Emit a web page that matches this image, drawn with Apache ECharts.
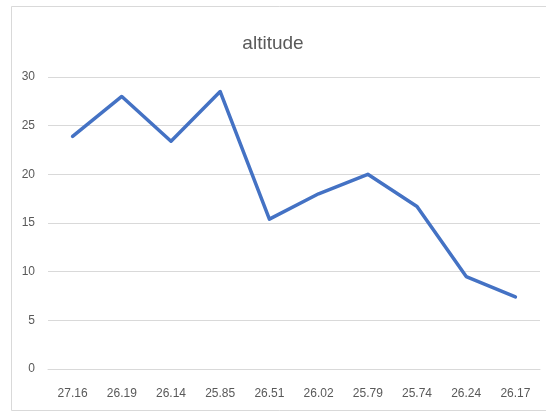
<!DOCTYPE html>
<html>
<head>
<meta charset="utf-8">
<script src="https://cdn.jsdelivr.net/npm/echarts@6/dist/echarts.min.js"></script>
<style>
  html, body { margin: 0; padding: 0; background: #fff; }
  #chart { width: 546px; height: 412px; }
</style>
</head>
<body>
<div id="chart"></div>
<script>
// Category labels along the horizontal axis
const categories = ['27.16', '26.19', '26.14', '25.85', '26.51', '26.02', '25.79', '25.74', '26.24', '26.17'];
// Altitude values for each category
const altitude = [23.9, 28.0, 23.4, 28.5, 15.4, 18.0, 20.0, 16.7, 9.5, 7.4];
// Vertical axis range and step
const yMin = 0;
const yMax = 30;
const yStep = 5;

const chart = echarts.init(document.getElementById('chart'), null, { renderer: 'canvas' });
const textColor = '#595959';
const gridColor = '#d9d9d9';

chart.setOption({
  backgroundColor: '#ffffff',
  animation: false,
  title: {
    text: 'altitude',
    left: 'center',
    top: 29,
    textStyle: {
      fontFamily: 'Liberation Sans, Arial, sans-serif',
      fontSize: 19,
      fontWeight: 'normal',
      color: textColor
    }
  },
  graphic: [{
    type: 'rect',
    shape: { x: 11.5, y: 6.5, width: 560, height: 404 },
    style: { fill: 'none', stroke: '#d9d9d9', lineWidth: 1 },
    silent: true
  }],
  grid: { left: 48, right: 6, top: 77, bottom: 43, containLabel: false },
  xAxis: {
    type: 'category',
    data: categories,
    boundaryGap: true,
    axisLine: { show: true, lineStyle: { color: gridColor, width: 1 } },
    axisTick: { show: false },
    axisLabel: {
      color: textColor,
      fontFamily: 'Liberation Sans, Arial, sans-serif',
      fontSize: 12,
      margin: 19,
      interval: 0
    },
    splitLine: { show: false }
  },
  yAxis: {
    type: 'value',
    min: yMin,
    max: yMax,
    interval: yStep,
    axisLine: { show: false },
    axisTick: { show: false },
    axisLabel: {
      color: textColor,
      fontFamily: 'Liberation Sans, Arial, sans-serif',
      fontSize: 12,
      margin: 13
    },
    splitLine: { show: true, lineStyle: { color: gridColor, width: 1 } }
  },
  series: [{
    name: 'altitude',
    type: 'line',
    data: altitude,
    symbol: 'none',
    smooth: false,
    lineStyle: { color: '#4472C4', width: 3.5, join: 'round', cap: 'round' },
    itemStyle: { color: '#4472C4' }
  }]
});
</script>
</body>
</html>
